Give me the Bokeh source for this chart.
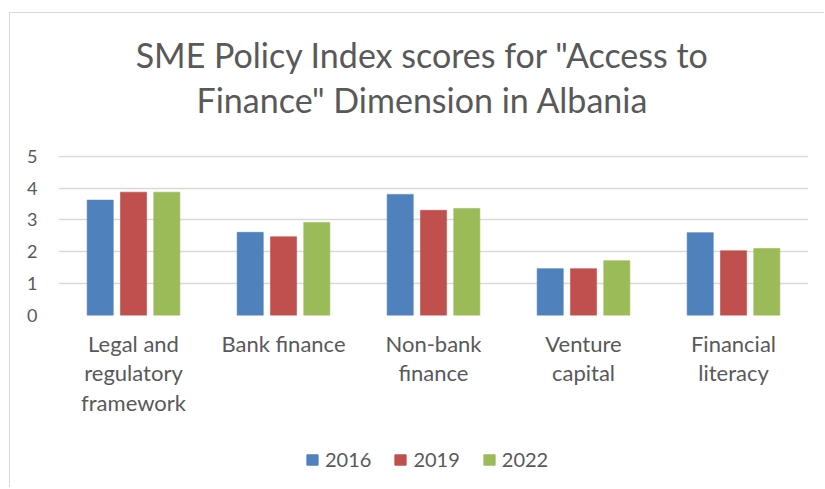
from bokeh.plotting import figure
from bokeh.layouts import column
from bokeh.models import (Range1d, FactorRange, Label, Legend, LegendItem,
                          ColumnDataSource, FixedTicker)
from bokeh.transform import dodge
from bokeh.embed import file_html
from bokeh.resources import INLINE

categories = ["Legal and regulatory framework", "Bank finance", "Non-bank finance",
              "Venture capital", "Financial literacy"]
category_labels = ["Legal and\nregulatory\nframework", "Bank finance", "Non-bank\nfinance",
                   "Venture\ncapital", "Financial\nliteracy"]
years = ["2016", "2019", "2022"]
scores_2016 = [3.62, 2.61, 3.80, 1.47, 2.60]
scores_2019 = [3.87, 2.47, 3.30, 1.47, 2.03]
scores_2022 = [3.87, 2.92, 3.36, 1.72, 2.10]
y_ticks = [0, 1, 2, 3, 4, 5]
title_lines = ['SME Policy Index scores for "Access to', 'Finance" Dimension in Albania']
colors = ["#4F81BD", "#C0504D", "#9BBB59"]

FONT = "Lato"
TXT = "#595959"
GRID = "#d9d9d9"
W = 814
BL, BR = 48, 16          # left / right borders shared by all stacked figures
FW = W - BL - BR         # frame width


def blank(h, xr, yr):
    f = figure(width=W, height=h, x_range=xr, y_range=yr, output_backend="svg",
               toolbar_location=None, x_axis_location=None, y_axis_location=None,
               min_border_left=BL, min_border_right=BR, min_border_top=0,
               min_border_bottom=0, outline_line_color=None)
    f.grid.visible = False
    return f


source = ColumnDataSource(data=dict(cat=category_labels, name=categories,
                                    y2016=scores_2016, y2019=scores_2019,
                                    y2022=scores_2022))
series = list(zip(["y2016", "y2019", "y2022"], [-0.222, 0.0, 0.222], colors))

# ---- title ----
tf = blank(133, Range1d(0, FW), Range1d(0, 133))
for txt, yv in zip(title_lines, [92, 47]):
    tf.add_layout(Label(x=364, y=yv, text=txt, text_align="center",
                        text_baseline="alphabetic", text_font=FONT,
                        text_font_size="34px", text_color=TXT))

# ---- main chart ----
p = figure(x_range=FactorRange(factors=category_labels), y_range=Range1d(0, 5.02),
           width=W, height=279, output_backend="svg", toolbar_location=None,
           min_border_left=BL, min_border_right=BR, min_border_top=9,
           min_border_bottom=110)
p.outline_line_color = None

for col, off, c in series:
    p.vbar(x=dodge("cat", off, range=p.x_range), top=col, width=0.174,
           source=source, fill_color=c, line_color=c, line_alpha=0.6)

p.xgrid.grid_line_color = None
p.ygrid.grid_line_color = GRID
p.ygrid.grid_line_width = 1.3
p.yaxis.ticker = FixedTicker(ticks=y_ticks)

for ax in (p.xaxis[0], p.yaxis[0]):
    ax.axis_line_color = None
    ax.major_tick_line_color = None
    ax.minor_tick_line_color = None
    ax.major_tick_out = 0
    ax.major_tick_in = 0
    ax.major_label_text_font = FONT
    ax.major_label_text_color = TXT

p.yaxis.major_label_text_font_size = "18px"
p.xaxis.major_label_text_font_size = "22px"
p.xaxis.major_label_text_line_height = 1.1
p.yaxis.major_label_standoff = 21
p.xaxis.major_label_standoff = 14

# ---- legend (hidden copies of the three series supply the swatches) ----
lf = blank(62, FactorRange(factors=category_labels), Range1d(0, 5))
keys = []
for col, off, c in series:
    keys.append(lf.vbar(x=dodge("cat", off, range=lf.x_range), top=col, width=0.174,
                        source=source, fill_color=c, line_color=c, visible=False))
legend = Legend(items=[LegendItem(label=y, renderers=[r]) for y, r in zip(years, keys)],
                orientation="horizontal", location=(247, 16),
                glyph_width=14, glyph_height=13, label_standoff=6, spacing=22,
                label_text_font=FONT, label_text_font_size="20px",
                label_text_color=TXT, border_line_color=None,
                background_fill_alpha=0, inactive_fill_alpha=0,
                margin=0, padding=4)
lf.add_layout(legend)

layout = column(tf, p, lf, margin=(12, 0, 0, 9), spacing=0,
                styles={"border-top": f"1px solid {GRID}",
                        "border-left": f"1px solid {GRID}"})

open("out.html", "w").write(file_html(layout, INLINE))
